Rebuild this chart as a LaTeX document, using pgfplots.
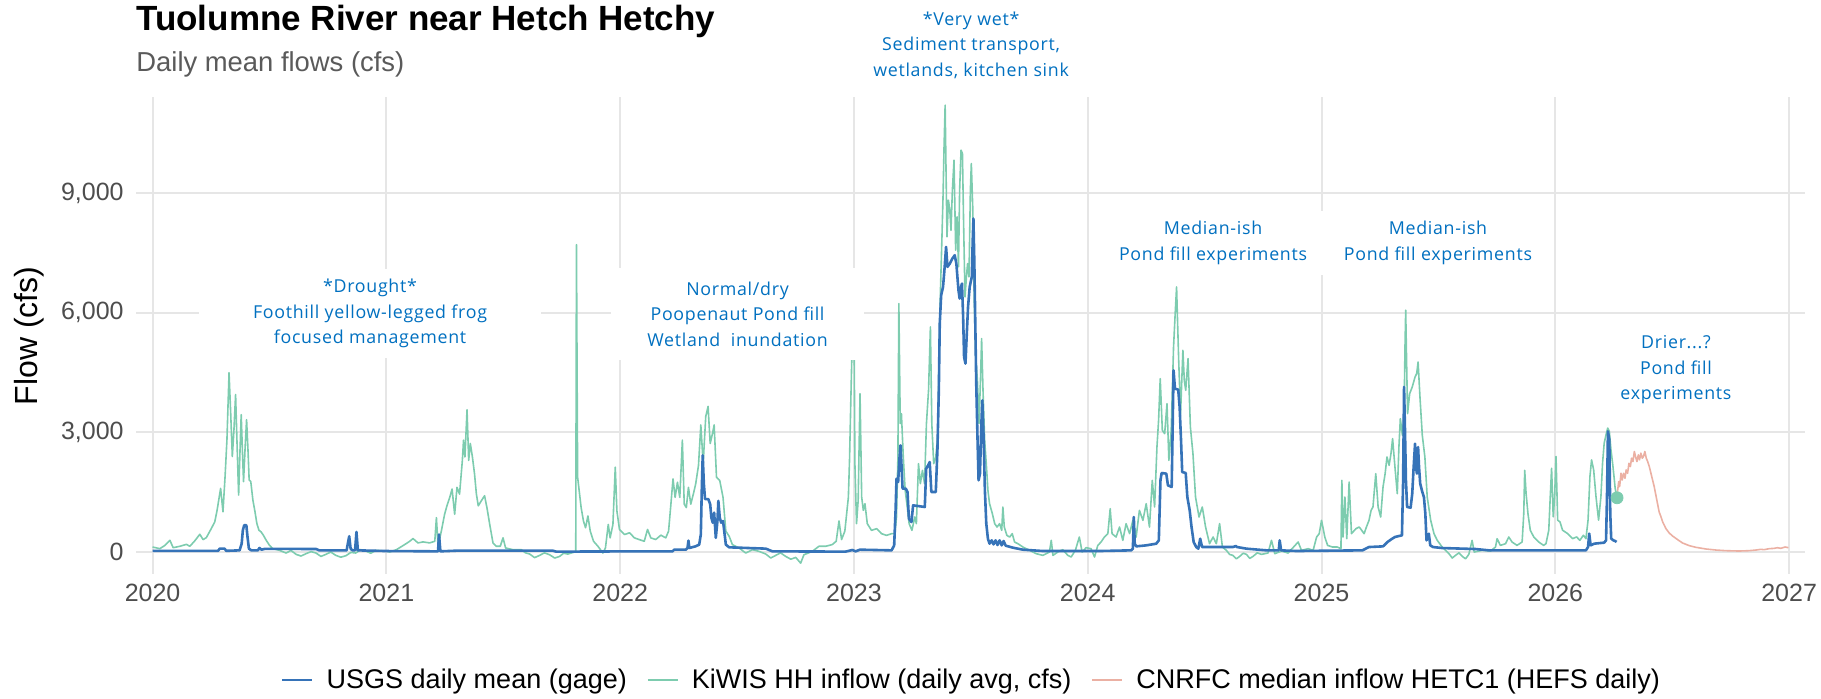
\documentclass[border=0pt]{standalone}
\usepackage{pgfplots}
\pgfplotsset{compat=1.18}
\usepackage{fontspec}
\setmainfont{Liberation Sans}
\newfontfamily\annfont[LetterSpace=4]{Open Sans}
\definecolor{usgs}{HTML}{3673B8}
\definecolor{kiwis}{HTML}{7DCCAF}
\definecolor{cnrfc}{HTML}{EBB0A3}
\definecolor{anncol}{HTML}{0070C0}
\definecolor{gridc}{HTML}{E6E6E6}
\definecolor{tickc}{HTML}{4D4D4D}
\definecolor{subc}{HTML}{5A5A5A}
\begin{document}
\begin{tikzpicture}
\path[use as bounding box] (0,0) rectangle (910.5pt,349pt);
\node[anchor=base west, inner sep=0pt, font=\bfseries\fontsize{17.5}{20}\selectfont] at (68pt,333.5pt) {Tuolumne River near Hetch Hetchy};
\node[anchor=base west, inner sep=0pt, text=subc, font=\fontsize{13.7}{16}\selectfont] at (68pt,313pt) {Daily mean flows (cfs)};
\node[rotate=90, inner sep=0pt, font=\fontsize{16}{18}\selectfont] at (14.5pt,181pt) {Flow (cfs)};
\begin{axis}[
  at={(68pt,62pt)}, anchor=south west,
  width=834.5pt, height=238.5pt, scale only axis,
  xmin=2019.929, xmax=2027.068, ymin=-551, ymax=11407,
  axis line style={draw=none},
  major tick length=0pt,
  grid=major, major grid style={gridc, line width=1pt},
  xtick={2020,2021,2022,2023,2024,2025,2026,2027},
  ytick={0,3000,6000,9000},
  scaled y ticks=false,
  /pgf/number format/assume math mode=true,
  x tick label style={/pgf/number format/1000 sep={}, font=\fontsize{12.5}{14}\selectfont, text=tickc, inner sep=0pt, yshift=-5pt},
  y tick label style={/pgf/number format/1000 sep={,}, font=\fontsize{12.5}{14}\selectfont, text=tickc, inner sep=0pt, xshift=-6pt},
  clip=false,
  legend style={at={(0.5,-0.222)}, anchor=center, draw=none, fill=none,
    font=\fontsize{13.5}{15}\selectfont,
    nodes={inner sep=0pt},
    /tikz/every odd column/.append style={column sep=6.5pt},
    /tikz/every even column/.append style={column sep=10pt}},
  legend columns=-1,
  legend image code/.code={\draw[#1] (0pt,0pt) -- (15pt,0pt);},
]
\addlegendimage{usgs, line width=1.4pt}
\addlegendentry{USGS daily mean (gage)}
\addlegendimage{kiwis, line width=1pt}
\addlegendentry{KiWIS HH inflow (daily avg, cfs)}
\addlegendimage{cnrfc, line width=1pt}
\addlegendentry{CNRFC median inflow HETC1 (HEFS daily)}

% KiWIS HH inflow
\addplot[kiwis, line width=0.8pt, line join=round, forget plot] coordinates {
(2020.000,126)(2020.031,84)(2020.053,168)(2020.074,294)(2020.088,109)(2020.116,143)(2020.145,193)(2020.159,143)(2020.180,277)(2020.202,445)(2020.216,311)(2020.230,361)(2020.251,588)(2020.266,756)(2020.276,1050)(2020.284,1344)(2020.291,1596)(2020.301,1008)(2020.310,1890)(2020.318,2814)(2020.327,4494)(2020.334,3486)(2020.341,2394)(2020.348,3066)(2020.355,3948)(2020.362,2562)(2020.368,1428)(2020.374,2562)(2020.379,3444)(2020.385,2394)(2020.389,1764)(2020.396,2646)(2020.402,3318)(2020.408,2562)(2020.413,1806)(2020.420,1764)(2020.429,1302)(2020.438,1008)(2020.446,714)(2020.455,546)(2020.464,504)(2020.474,420)(2020.486,294)(2020.500,168)(2020.514,84)(2020.543,42)(2020.571,-25)(2020.592,40)(2020.614,-59)(2020.635,-100)(2020.656,-42)(2020.678,10)(2020.699,-25)(2020.720,-110)(2020.741,-59)(2020.762,0)(2020.784,-84)(2020.805,-130)(2020.827,-92)(2020.848,-10)(2020.869,-25)(2020.890,60)(2020.912,25)(2020.933,-30)(2020.955,42)(2020.997,25)
(2021.014,0)(2021.043,59)(2021.078,186)(2021.100,270)(2021.114,338)(2021.135,228)(2021.157,254)(2021.185,228)(2021.207,270)(2021.214,862)(2021.221,144)(2021.235,524)(2021.249,946)(2021.259,1158)(2021.271,1369)(2021.281,1580)(2021.292,946)(2021.302,1622)(2021.313,1453)(2021.325,2298)(2021.330,2805)(2021.336,2383)(2021.345,3566)(2021.352,2298)(2021.359,2721)(2021.368,2383)(2021.377,1960)(2021.385,1453)(2021.393,1158)(2021.406,1284)(2021.420,1411)(2021.430,1115)(2021.442,693)(2021.456,228)(2021.470,144)(2021.487,144)(2021.499,355)(2021.510,101)(2021.541,59)(2021.577,59)(2021.595,-20)(2021.613,-51)(2021.634,-140)(2021.655,-85)(2021.676,-20)(2021.698,-68)(2021.720,-150)(2021.741,-110)(2021.758,-30)(2021.776,-51)(2021.805,0)(2021.810,0)(2021.813,7706)(2021.818,1876)(2021.823,1622)(2021.833,1115)(2021.843,777)(2021.852,608)(2021.862,904)(2021.872,524)(2021.886,270)(2021.905,144)(2021.926,-25)(2021.937,101)(2021.949,693)(2021.957,355)(2021.969,693)(2021.979,2129)(2021.986,1031)(2021.997,566)(2022.019,439)(2022.040,482)(2022.061,355)(2022.081,313)
(2022.103,270)(2022.117,566)(2022.131,355)(2022.152,313)(2022.174,423)(2022.195,355)(2022.207,524)(2022.217,1200)(2022.226,1834)(2022.235,1369)(2022.245,1749)(2022.255,1369)(2022.266,2805)(2022.274,1200)(2022.283,1115)(2022.292,1622)(2022.302,1200)(2022.313,1453)(2022.323,1707)(2022.335,2172)(2022.345,3186)(2022.355,2214)(2022.366,3397)(2022.376,3650)(2022.385,2721)(2022.395,2974)(2022.402,3186)(2022.412,1876)(2022.426,1791)(2022.440,1369)(2022.452,524)(2022.466,397)(2022.480,186)(2022.509,101)(2022.537,-25)(2022.566,59)(2022.594,17)(2022.623,-51)(2022.644,-150)(2022.665,-85)(2022.686,-20)(2022.708,-110)(2022.730,-180)(2022.751,-135)(2022.772,-279)(2022.786,-68)(2022.822,17)(2022.850,144)(2022.879,144)(2022.907,186)(2022.924,270)(2022.936,777)(2022.947,313)(2022.961,524)(2022.976,1369)(2022.981,2298)(2022.987,3904)(2022.993,5425)(2022.999,7030)(2023.004,2214)
(2023.011,711)(2023.018,1296)(2023.026,3971)(2023.033,1379)(2023.040,1045)(2023.047,1212)(2023.057,711)(2023.075,543)(2023.097,585)(2023.118,460)(2023.139,418)(2023.161,460)(2023.175,460)(2023.182,878)(2023.188,2383)(2023.192,6228)(2023.198,3219)(2023.203,3469)(2023.211,2383)(2023.219,1547)(2023.228,1129)(2023.236,711)(2023.248,543)(2023.260,878)(2023.267,711)(2023.276,2215)(2023.284,1714)(2023.293,2048)(2023.302,1714)(2023.310,3219)(2023.319,4055)(2023.327,5643)(2023.333,3219)(2023.341,2215)(2023.350,2383)(2023.358,2884)(2023.364,4891)(2023.370,6563)(2023.376,7817)(2023.381,8903)(2023.385,10074)(2023.390,11202)(2023.394,9489)(2023.398,7900)(2023.404,8820)(2023.410,8569)(2023.415,8067)(2023.421,9071)(2023.428,9823)(2023.435,7566)(2023.441,8402)(2023.447,7148)(2023.452,9071)(2023.458,10074)(2023.464,9990)(2023.469,8235)(2023.475,6395)(2023.481,6897)(2023.486,7231)(2023.492,6897)(2023.498,9071)(2023.502,9739)(2023.508,8653)(2023.515,6145)(2023.521,4891)(2023.528,4305)(2023.535,3219)(2023.542,4473)(2023.546,5350)(2023.552,4055)(2023.559,2801)(2023.566,2215)(2023.573,1547)(2023.580,1212)(2023.592,961)(2023.602,711)(2023.612,627)(2023.623,711)(2023.632,543)(2023.637,1129)(2023.643,627)(2023.654,418)(2023.666,376)(2023.677,460)(2023.687,251)(2023.701,209)(2023.723,125)(2023.751,42)(2023.780,-42)(2023.808,-84)(2023.836,0)(2023.844,293)(2023.851,-84)(2023.872,0)(2023.893,59)(2023.915,-84)(2023.929,-125)(2023.947,42)(2023.964,376)(2023.976,0)(2023.993,109)(2024.014,84)
(2024.029,-125)(2024.043,167)(2024.057,251)(2024.071,376)(2024.086,460)(2024.096,1087)(2024.104,460)(2024.121,376)(2024.136,627)(2024.150,293)(2024.164,711)(2024.179,460)(2024.193,794)(2024.207,376)(2024.221,1045)(2024.236,794)(2024.250,1212)(2024.264,627)(2024.276,1797)(2024.286,1129)(2024.296,2633)(2024.303,3302)(2024.310,4347)(2024.319,3051)(2024.329,2968)(2024.339,3720)(2024.347,2299)(2024.357,3051)(2024.367,5141)(2024.374,5977)(2024.380,6646)(2024.384,5810)(2024.389,4807)(2024.397,3469)(2024.407,5058)(2024.413,4305)(2024.419,4055)(2024.429,4849)(2024.439,3135)(2024.450,2466)(2024.461,1379)(2024.476,878)(2024.490,1129)(2024.504,627)(2024.521,209)(2024.536,376)(2024.550,209)(2024.564,711)(2024.576,125)(2024.593,42)(2024.607,-60)(2024.621,-84)(2024.636,-170)(2024.650,-109)(2024.665,-30)(2024.679,-59)(2024.693,-160)(2024.707,-109)(2024.725,-20)(2024.743,-59)(2024.771,-25)(2024.786,293)(2024.800,-42)(2024.829,25)(2024.857,-25)(2024.900,251)(2024.914,42)(2024.943,84)(2024.964,42)(2024.979,376)(2024.990,460)(2025.000,794)(2025.014,376)
(2025.026,167)(2025.047,125)(2025.068,125)(2025.083,84)(2025.087,1797)(2025.092,376)(2025.100,1379)(2025.108,334)(2025.118,1756)(2025.128,460)(2025.147,585)(2025.161,627)(2025.172,543)(2025.182,460)(2025.192,627)(2025.203,794)(2025.212,1045)(2025.220,1129)(2025.232,1965)(2025.242,1129)(2025.253,878)(2025.263,1630)(2025.272,1965)(2025.280,2383)(2025.289,2174)(2025.297,2466)(2025.304,2842)(2025.314,2132)(2025.324,1463)(2025.331,2633)(2025.337,3344)(2025.346,2926)(2025.353,3469)(2025.357,5141)(2025.360,6061)(2025.364,4723)(2025.368,3469)(2025.377,3971)(2025.388,4138)(2025.400,4389)(2025.407,4473)(2025.413,4765)(2025.421,3887)(2025.431,2926)(2025.442,2383)(2025.452,1379)(2025.467,794)(2025.481,460)(2025.495,293)(2025.516,125)(2025.545,-42)(2025.559,-150)(2025.573,-84)(2025.588,-20)(2025.602,-109)(2025.616,-170)(2025.630,-59)(2025.644,293)(2025.653,0)(2025.687,42)(2025.723,25)(2025.744,125)(2025.751,334)(2025.765,167)(2025.787,209)(2025.801,376)(2025.815,251)(2025.836,167)(2025.858,251)(2025.865,961)(2025.869,2048)(2025.875,1463)(2025.883,961)(2025.893,543)(2025.908,376)(2025.929,251)(2025.950,167)(2025.960,209)
(2025.972,546)(2025.977,1218)(2025.984,2100)(2025.991,882)(2025.997,1386)(2026.003,2394)(2026.010,798)(2026.020,756)(2026.031,546)(2026.053,462)(2026.074,336)(2026.091,378)(2026.105,294)(2026.120,420)(2026.131,336)(2026.140,798)(2026.148,1890)(2026.155,2310)(2026.164,2058)(2026.174,1386)(2026.185,798)(2026.195,1386)(2026.202,2226)(2026.209,2730)(2026.217,2940)(2026.224,3108)(2026.231,3024)(2026.238,2562)(2026.245,2226)(2026.251,1890)(2026.256,1596)(2026.264,1360)
};

% CNRFC median inflow
\addplot[cnrfc, line width=0.8pt, line join=round, forget plot] coordinates {
(2026.266,1512)(2026.271,1764)(2026.275,1638)(2026.281,1974)(2026.286,1806)(2026.292,1974)(2026.298,1848)(2026.303,2058)(2026.309,1974)(2026.315,2226)(2026.321,2142)(2026.326,2352)(2026.332,2268)(2026.338,2520)(2026.343,2394)(2026.349,2268)(2026.355,2436)(2026.360,2310)(2026.366,2478)(2026.372,2352)(2026.377,2394)(2026.383,2520)(2026.389,2352)(2026.395,2268)(2026.402,2142)(2026.409,1974)(2026.416,1806)(2026.423,1638)(2026.430,1428)(2026.437,1218)(2026.444,1008)(2026.452,882)(2026.459,756)(2026.473,588)(2026.487,479)(2026.501,403)(2026.523,311)(2026.544,227)(2026.573,160)(2026.601,118)(2026.644,76)(2026.687,50)(2026.729,34)(2026.786,25)(2026.829,34)(2026.858,50)(2026.879,67)(2026.893,59)(2026.915,84)(2026.936,92)(2026.950,109)(2026.964,92)(2026.983,126)(2026.997,109)
};

% USGS daily mean
\addplot[usgs, line width=1.3pt, line join=round, forget plot] coordinates {
(2020.000,30)(2020.280,30)(2020.287,84)(2020.308,84)(2020.315,30)(2020.372,42)(2020.381,210)(2020.386,546)(2020.392,672)(2020.401,672)(2020.406,378)(2020.412,84)(2020.422,42)(2020.450,42)(2020.457,101)(2020.466,59)(2020.480,80)(2020.699,76)(2020.713,42)(2020.830,42)(2020.835,210)(2020.841,395)(2020.847,84)(2020.855,42)(2020.866,42)(2020.872,504)(2020.878,42)(2020.997,25)(2021.221,17)(2021.225,440)(2021.231,17)(2021.300,34)(2021.712,34)(2021.726,10)(2022.083,17)(2022.224,17)(2022.231,59)(2022.281,59)(2022.288,101)(2022.292,287)(2022.296,101)(2022.323,144)(2022.338,186)(2022.345,440)(2022.349,1538)(2022.353,2425)(2022.358,1707)(2022.363,1327)(2022.377,1327)(2022.385,1200)(2022.390,862)(2022.396,735)(2022.402,989)(2022.409,355)(2022.416,777)(2022.420,1284)(2022.426,862)(2022.432,735)(2022.440,777)(2022.452,186)(2022.466,118)(2022.623,85)(2022.651,17)(2022.964,10)(2022.993,51)(2023.007,17)(2023.026,59)(2023.161,42)(2023.172,167)(2023.178,1045)(2023.182,1839)(2023.189,1756)(2023.195,2383)(2023.199,2675)(2023.203,2215)(2023.208,1588)(2023.222,1588)(2023.229,1505)(2023.235,836)(2023.246,752)(2023.253,1170)(2023.303,1129)(2023.309,2090)(2023.317,2174)(2023.324,2257)(2023.331,1505)(2023.350,1505)(2023.357,2550)(2023.363,4055)(2023.367,5727)(2023.373,6437)(2023.381,6646)(2023.388,7148)(2023.394,7649)(2023.400,7148)(2023.410,7231)(2023.421,7357)(2023.431,7440)(2023.438,7231)(2023.447,6563)(2023.452,6354)(2023.458,6646)(2023.462,6730)(2023.467,5894)(2023.471,4891)(2023.477,4723)(2023.482,5392)(2023.488,6145)(2023.495,6646)(2023.504,6897)(2023.508,7817)(2023.511,8360)(2023.515,7231)(2023.519,5727)(2023.523,4222)(2023.529,2717)(2023.533,1797)(2023.539,1965)(2023.545,3219)(2023.549,3804)(2023.555,2801)(2023.560,1547)(2023.566,711)(2023.573,334)(2023.580,209)(2023.589,293)(2023.597,192)(2023.606,293)(2023.614,176)(2023.623,293)(2023.632,167)(2023.640,276)(2023.649,159)(2023.680,109)(2023.723,59)(2023.808,25)(2024.050,25)(2024.186,42)(2024.193,84)(2024.197,878)(2024.201,209)(2024.207,142)(2024.250,167)(2024.293,209)(2024.304,293)(2024.311,1797)(2024.316,1981)(2024.336,1965)(2024.343,1672)(2024.359,1630)(2024.363,3051)(2024.367,4556)(2024.373,4096)(2024.387,4071)(2024.393,3637)(2024.399,2801)(2024.404,2006)(2024.419,1981)(2024.426,1379)(2024.436,1045)(2024.444,627)(2024.453,251)(2024.464,125)(2024.473,84)(2024.481,334)(2024.489,125)(2024.621,125)(2024.633,150)(2024.639,125)(2024.679,84)(2024.764,42)(2024.817,42)(2024.821,293)(2024.827,42)(2024.893,25)(2025.175,42)(2025.189,84)(2025.203,125)(2025.263,142)(2025.272,192)(2025.282,251)(2025.300,326)(2025.314,376)(2025.331,401)(2025.344,418)(2025.349,1797)(2025.353,4138)(2025.357,3051)(2025.361,1797)(2025.366,1129)(2025.381,1112)(2025.388,1463)(2025.394,2132)(2025.400,2717)(2025.404,2132)(2025.408,1965)(2025.413,2633)(2025.417,2132)(2025.422,1714)(2025.431,1505)(2025.438,1379)(2025.444,961)(2025.449,293)(2025.455,376)(2025.459,460)(2025.465,167)(2025.477,125)(2025.516,100)(2025.659,75)(2025.716,42)(2026.131,42)(2026.140,126)(2026.145,462)(2026.151,168)(2026.167,210)(2026.209,235)(2026.217,294)(2026.221,1386)(2026.225,3024)(2026.231,2814)(2026.235,966)(2026.239,336)(2026.248,294)(2026.256,277)(2026.262,252)
};

% last KiWIS value
\addplot[only marks, mark=*, mark size=3pt, kiwis, forget plot] coordinates {(2026.264,1360)};

% annotations
\begin{scope}[every node/.style={fill=white, text=anncol, align=center, inner xsep=10pt, inner ysep=5pt, font=\annfont\fontsize{8.9}{12.75}\selectfont}]
\node[inner xsep=27pt] at (axis cs:2020.930,5980) {*Drought*\\Foothill yellow-legged frog\\focused management};
\node[inner xsep=18pt, inner ysep=7pt] at (axis cs:2022.502,5967) {Normal/dry\\Poopenaut Pond fill\\Wetland\ \ inundation};
\node at (axis cs:2023.501,12710) {*Very wet*\\Sediment transport,\\wetlands, kitchen sink};
\node at (axis cs:2024.536,7744) {Median-ish\\Pond fill experiments};
\node at (axis cs:2025.498,7744) {Median-ish\\Pond fill experiments};
\node at (axis cs:2026.516,4566) {Drier...?\\Pond fill\\experiments};
\end{scope}
\end{axis}
\end{tikzpicture}
\end{document}
